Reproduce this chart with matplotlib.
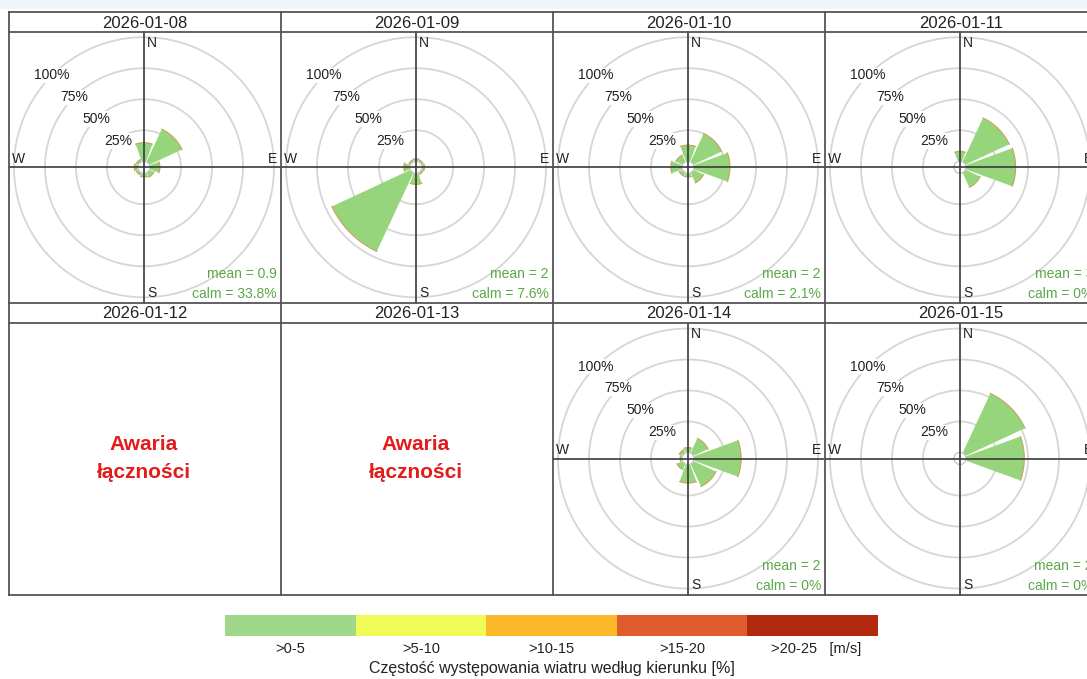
import numpy as np
import matplotlib
matplotlib.use("Agg")
import matplotlib.pyplot as plt
from matplotlib.patches import Rectangle

plt.rcParams["font.family"] = ["Liberation Sans", "DejaVu Sans"]

# --- data ---
dates = ["2026-01-08", "2026-01-09", "2026-01-10", "2026-01-11",
         "2026-01-12", "2026-01-13", "2026-01-14", "2026-01-15"]
directions = [0, 45, 90, 135, 180, 225, 270, 315]  # N, NE, E, ...
freq_0108 = [15, 29, 8, 4, 3, 2, 3, 2]
freq_0109 = [2, 1.5, 2, 1.5, 9, 70, 5, 1.5]
freq_0110 = [13, 25, 29, 9, 3, 3, 9, 6]
freq_0111 = [8, 39, 40, 13, 0, 0, 0, 0]
freq_0114 = [4, 13, 38, 20, 15, 5, 1.5, 3]
freq_0115 = [0, 53, 47, 0, 0, 0, 0, 0]
freqs = [freq_0108, freq_0109, freq_0110, freq_0111,
         None, None, freq_0114, freq_0115]
mean_speed = [0.9, 2, 2, 3, None, None, 2, 2]
calm_pct = [33.8, 7.6, 2.1, 0, None, None, 0, 0]
ring_values = [25, 50, 75, 100]
missing_text = "Awaria\nłączności"

speed_bins = [">0-5", ">5-10", ">10-15", ">15-20", ">20-25"]
bin_colors = ["#9fd88a", "#eefb58", "#fbb829", "#e05c2f", "#b2290f"]
speed_unit = "[m/s]"
legend_title = "Częstość występowania wiatru według kierunku [%]"

# --- layout (pixels) ---
W, H = 1087, 679
fig = plt.figure(figsize=(W / 100, H / 100), dpi=100, facecolor="white")

col_left = [9, 281, 553, 825]
col_w = 272
row_top = [12, 302.5]
head_h = 20
panel_h = [270.5, 272]
R = 135
r_max = 104
r_origin = -4.84
bar_green = "#97d57d"
txt_green = "#5aa847"
line_col = "#555555"
cross_col = "#3a3a3a"

overlay = fig.add_axes([0, 0, 1, 1], zorder=10)
overlay.set_xlim(0, W)
overlay.set_ylim(H, 0)
overlay.axis("off")
overlay.patch.set_alpha(0)

# light strip at the very top
overlay.add_patch(Rectangle((0, 0), W, 9, color="#eef5fb", lw=0))

for i, day in enumerate(dates):
    row, col = divmod(i, 4)
    x0 = col_left[col]
    y_head = row_top[row]
    y0 = y_head + head_h
    y1 = y0 + panel_h[row]
    cx = x0 + 135
    cy = (y0 + y1) / 2

    overlay.text(x0 + col_w / 2, y_head + head_h / 2 + 1, day, ha="center",
                 va="center", fontsize=12, color="#222222")

    if freqs[i] is None:
        overlay.text(cx, cy, missing_text, ha="center", va="center",
                     fontsize=15, fontweight="bold", color="#e31b1b",
                     linespacing=1.55)
        continue

    ax = fig.add_axes([(cx - R) / W, 1 - (cy + R) / H, 2 * R / W, 2 * R / H],
                      projection="polar", zorder=1)
    ax.patch.set_alpha(0)
    ax.set_theta_zero_location("N")
    ax.set_theta_direction(-1)
    ax.set_rorigin(r_origin)
    ax.set_ylim(0, r_max)
    ax.spines["polar"].set_visible(False)
    # the inner spine is the calm circle
    ax.spines["inner"].set_color("#c8c8c8")
    ax.spines["inner"].set_linewidth(1.0)
    ax.set_xticks([])
    ax.set_yticks([])
    ax.grid(False)

    t = np.linspace(0, 2 * np.pi, 200)
    for rv in ring_values:
        ax.plot(t, np.full_like(t, rv), color="#d6d6d6", lw=1.3, zorder=1)

    theta = np.deg2rad(directions)
    width = np.deg2rad(40)
    ax.bar(theta, freqs[i], width=width, bottom=0, color=bar_green,
           lw=0, zorder=2)
    for th, v in zip(theta, freqs[i]):
        if v > 0:
            arc = np.linspace(th - width / 2, th + width / 2, 30)
            ax.plot(arc, np.full_like(arc, v), color="#c7a45e", lw=0.8,
                    zorder=3)

    for rv in ring_values:
        ax.text(np.deg2rad(315), rv, f"{rv}%", ha="center", va="center",
                fontsize=10, color="#222222", zorder=4,
                bbox=dict(facecolor="white", edgecolor="none", pad=0.5))

    # crosshair and compass letters
    overlay.plot([cx, cx], [y0, y1], color=cross_col, lw=1.2)
    overlay.plot([x0, x0 + col_w], [cy, cy], color=cross_col, lw=1.2)
    overlay.text(cx + 3, y0 + 11, "N", ha="left", va="center", fontsize=10,
                 color="#222222")
    overlay.text(cx + 3, y1 - 9.5, "S", ha="left", va="center", fontsize=10,
                 color="#222222")
    overlay.text(x0 + 3, cy - 8, "W", ha="left", va="center", fontsize=10,
                 color="#222222")
    overlay.text(x0 + col_w - 4, cy - 8, "E", ha="right", va="center",
                 fontsize=10, color="#222222")

    overlay.text(x0 + col_w - 4, y1 - 28, f"mean = {mean_speed[i]:g}",
                 ha="right", va="center", fontsize=10, color=txt_green)
    overlay.text(x0 + col_w - 4, y1 - 8.5, f"calm = {calm_pct[i]:g}%",
                 ha="right", va="center", fontsize=10, color=txt_green)

# panel grid lines
right_edge = col_left[-1] + col_w
bottom_edge = row_top[1] + head_h + panel_h[1]
for yy in [row_top[0], row_top[0] + head_h, row_top[1], row_top[1] + head_h,
           bottom_edge]:
    overlay.plot([col_left[0], right_edge], [yy, yy], color=line_col, lw=1.3)
for xx in col_left + [right_edge]:
    overlay.plot([xx, xx], [row_top[0], bottom_edge], color=line_col, lw=1.3)

# speed legend bar
cb_x0, cb_x1, cb_y, cb_h = 225, 878, 615, 21
seg = (cb_x1 - cb_x0) / len(speed_bins)
for k, (lab, c) in enumerate(zip(speed_bins, bin_colors)):
    overlay.add_patch(Rectangle((cb_x0 + k * seg, cb_y), seg, cb_h, color=c,
                                lw=0))
    if k < len(speed_bins) - 1:
        overlay.text(cb_x0 + (k + 0.5) * seg, cb_y + 34, lab, ha="center",
                     va="center", fontsize=10.5, color="#222222")
    else:
        overlay.text(cb_x0 + k * seg + 24, cb_y + 34, f"{lab}   {speed_unit}",
                     ha="left", va="center", fontsize=10.5, color="#222222")
overlay.text((cb_x0 + cb_x1) / 2, cb_y + 53, legend_title, ha="center",
             va="center", fontsize=11.5, color="#222222")

fig.savefig("out.png", dpi=100)
